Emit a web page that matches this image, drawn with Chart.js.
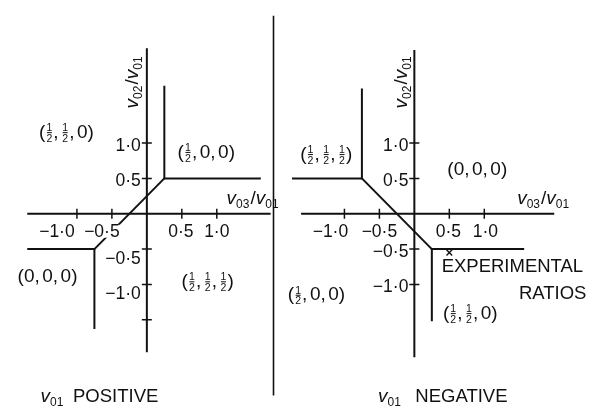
<!DOCTYPE html>
<html>
<head>
<meta charset="utf-8">
<script src="https://cdn.jsdelivr.net/npm/chart.js@4/dist/chart.umd.min.js"></script>
<style>
  html, body { margin: 0; padding: 0; background: #fff; }
  #wrap { width: 593px; height: 412px; }
</style>
</head>
<body>
<div id="wrap"><canvas id="c" width="593" height="412"></canvas></div>
<script>
// ---- tick values and their labels (same on both diagrams) ----
const xTickValues = [-1.0, -0.5, 0.5, 1.0];
const xTickLabels = ['−1·0', '−0·5', '0·5', '1·0'];
const yTickValues = [1.0, 0.5, -0.5, -1.0];
const yTickLabels = ['1·0', '0·5', '−0·5', '−1·0'];
const positiveExtraYTicks = [-1.5];

// ---- axis extents (v03/v01 along x, v02/v01 along y) ----
const positiveXAxis = [-1.71, 1.77];
const positiveYAxis = [-1.96, 2.34];
const negativeXAxis = [-1.62, 2.0];
const negativeYAxis = [-2.03, 2.315];

// ---- phase boundaries, as polylines of (v03/v01, v02/v01) ----
const positiveBoundaries = [
  [[0.25, 1.81], [0.25, 0.5], [1.63, 0.5]],
  [[0.25, 0.5], [-0.75, -0.5]],
  [[-1.71, -0.5], [-0.75, -0.5], [-0.75, -1.63]]
];
const negativeBoundaries = [
  [[-0.75, 1.77], [-0.75, 0.5], [-1.75, 0.5]],
  [[-0.75, 0.5], [0.25, -0.5]],
  [[1.57, -0.5], [0.25, -0.5], [0.25, -1.52]]
];

// ---- measured ratios (v01 negative) ----
const experimentalRatios = [[0.5, -0.55]];

// ---- separator between the two diagrams (left-diagram units) ----
const separatorX = [1.811];
const separatorY = [-2.57, 2.8];

const INK = '#111';
const FONT = '"Liberation Sans", Arial, Helvetica, sans-serif';

// horizontal nudges of the x tick labels, per diagram (px)
const xLabelNudge = { xL: [-20, -10, -1, 0], xR: [-14, 0, -1, 1] };

const toPts = arr => arr.map(p => ({ x: p[0], y: p[1] }));

function lineSet(points, xAxisID, width) {
  return {
    type: 'line', data: toPts(points), xAxisID, yAxisID: 'y',
    borderColor: INK, borderWidth: width || 2, pointRadius: 0,
    fill: false, tension: 0, borderCapStyle: 'butt', borderJoinStyle: 'miter'
  };
}
function tickSet(points, xAxisID, rotation) {
  return {
    type: 'scatter', data: toPts(points), xAxisID, yAxisID: 'y',
    pointStyle: 'line', pointRadius: 5, rotation,
    borderColor: INK, borderWidth: 1.5, showLine: false
  };
}

const datasets = [];
// left diagram: v01 positive
datasets.push(lineSet([[positiveXAxis[0], 0], [positiveXAxis[1], 0]], 'xL', 2));
datasets.push(lineSet([[0, positiveYAxis[0]], [0, positiveYAxis[1]]], 'xL', 2));
positiveBoundaries.forEach(b => datasets.push(lineSet(b, 'xL', 2)));
datasets.push(tickSet(xTickValues.map(v => [v, 0]), 'xL', 90));
datasets.push(tickSet(yTickValues.concat(positiveExtraYTicks).map(v => [0, v]), 'xL', 0));
// right diagram: v01 negative
datasets.push(lineSet([[negativeXAxis[0], 0], [negativeXAxis[1], 0]], 'xR', 2));
datasets.push(lineSet([[0, negativeYAxis[0]], [0, negativeYAxis[1]]], 'xR', 2));
negativeBoundaries.forEach(b => datasets.push(lineSet(b, 'xR', 2)));
datasets.push(tickSet(xTickValues.map(v => [v, 0]), 'xR', 90));
datasets.push(tickSet(yTickValues.map(v => [0, v]), 'xR', 0));
datasets.push({
  type: 'scatter', data: toPts(experimentalRatios), xAxisID: 'xR', yAxisID: 'y',
  pointStyle: 'crossRot', pointRadius: 4, borderColor: INK, borderWidth: 1.4, showLine: false
});
// separator
datasets.push(lineSet([[separatorX[0], separatorY[0]], [separatorX[0], separatorY[1]]], 'xL', 1.6));

// ---- rich text helpers (subscripts and stacked ½ fractions) ----
function partWidth(ctx, p) {
  if (p.frac) return p.w || 8;
  ctx.font = (p.italic ? 'italic ' : '') + p.size + 'px ' + FONT;
  return ctx.measureText(p.t).width + (p.after || 0);
}
function drawRich(ctx, x, y, parts, align) {
  const widths = parts.map(p => partWidth(ctx, p));
  const total = widths.reduce((a, b) => a + b, 0);
  let cx = align === 'center' ? x - total / 2 : align === 'right' ? x - total : x;
  ctx.textBaseline = 'alphabetic';
  ctx.textAlign = 'left';
  ctx.fillStyle = INK;
  parts.forEach((p, i) => {
    if (p.frac) {
      const w = widths[i];
      ctx.font = '10.5px ' + FONT;
      ctx.textAlign = 'center';
      ctx.fillText('1', cx + w / 2, y - 6.8);
      ctx.fillText('2', cx + w / 2, y + 4);
      ctx.fillRect(cx + 1.5, y - 5.6, w - 3, 1);
      ctx.textAlign = 'left';
    } else {
      ctx.font = (p.italic ? 'italic ' : '') + p.size + 'px ' + FONT;
      ctx.fillText(p.t, cx, y + (p.dy || 0));
    }
    cx += widths[i];
  });
}
function phaseParts(str, size) {
  return Array.from(str).map(ch => {
    if (ch === '½') return { frac: true, w: 8 };
    if (ch === ',') return { t: ',', size, after: 2.5 };
    return { t: ch, size };
  });
}
function ratioParts(a, b) {
  return [
    { t: 'v', size: 19, italic: true }, { t: a, size: 12, dy: 4, after: 1 },
    { t: '/', size: 19 },
    { t: 'v', size: 19, italic: true }, { t: b, size: 12, dy: 4 }
  ];
}

// labels anchored in data coordinates
const phaseLabels = [
  { axis: 'xL', x: -1.15, y: 1.16, text: '(½,½,0)' },
  { axis: 'xL', x: 0.85, y: 0.88, text: '(½,0,0)' },
  { axis: 'xL', x: -1.42, y: -0.88, text: '(0,0,0)' },
  { axis: 'xL', x: 0.87, y: -0.95, text: '(½,½,½)' },
  { axis: 'xR', x: -1.26, y: 0.85, text: '(½,½,½)' },
  { axis: 'xR', x: 0.9, y: 0.64, text: '(0,0,0)' },
  { axis: 'xR', x: -1.40, y: -1.14, text: '(½,0,0)' },
  { axis: 'xR', x: 0.8, y: -1.40, text: '(½,½,0)' }
];

const textPlugin = {
  id: 'diagramText',
  afterDatasetsDraw(chart) {
    const ctx = chart.ctx;
    const s = chart.scales;
    const y = s.y;
    ctx.save();

    ['xL', 'xR'].forEach(ax => {
      const xs = s[ax];
      const x0 = xs.getPixelForValue(0);
      const y0 = y.getPixelForValue(0);
      // x tick labels below the axis
      ctx.font = '17.5px ' + FONT;
      xTickValues.forEach((v, i) => {
        const t = xTickLabels[i];
        const w = ctx.measureText(t).width;
        const cx = xs.getPixelForValue(v) + xLabelNudge[ax][i];
        ctx.fillStyle = '#fff';
        ctx.fillRect(cx - w / 2, y0 + 11, w, 13);
        ctx.fillStyle = INK;
        ctx.textAlign = 'center';
        ctx.textBaseline = 'alphabetic';
        ctx.fillText(t, cx, y0 + 23);
      });
      // y tick labels left of the axis
      yTickValues.forEach((v, i) => {
        const shift = v < 0 ? (ax === 'xL' ? 10 : 3) : 3;
        ctx.fillStyle = INK;
        ctx.textAlign = 'right';
        ctx.textBaseline = 'middle';
        ctx.font = '17.5px ' + FONT;
        ctx.fillText(yTickLabels[i], x0 - 6, y.getPixelForValue(v) + shift);
      });
      // axis titles
      drawRich(ctx, xs.getPixelForValue(ax === 'xL' ? 1.14 : 1.47), y.getPixelForValue(0.14),
        ratioParts('03', '01'), 'left');
      ctx.save();
      ctx.translate(xs.getPixelForValue(ax === 'xL' ? -0.12 : -0.1), y.getPixelForValue(1.49));
      ctx.rotate(-Math.PI / 2);
      drawRich(ctx, 0, 0, ratioParts('02', '01'), 'left');
      ctx.restore();
    });

    // phase labels
    phaseLabels.forEach(l => {
      drawRich(ctx, s[l.axis].getPixelForValue(l.x), y.getPixelForValue(l.y) + 6,
        phaseParts(l.text, 19), 'center');
    });

    // experimental ratios note
    ctx.fillStyle = INK;
    ctx.textBaseline = 'middle';
    ctx.textAlign = 'left';
    ctx.font = '18.5px ' + FONT;
    ctx.fillText('EXPERIMENTAL', s.xR.getPixelForValue(0.39), y.getPixelForValue(-0.75));
    ctx.textAlign = 'right';
    ctx.fillText('RATIOS', s.xR.getPixelForValue(2.46), y.getPixelForValue(-1.14));

    // captions under each diagram
    const base = y.getPixelForValue(-2.66);
    drawRich(ctx, s.xL.getPixelForValue(-1.52), base,
      [{ t: 'v', size: 19, italic: true }, { t: '01', size: 12, dy: 4 }], 'left');
    ctx.textAlign = 'left'; ctx.textBaseline = 'alphabetic';
    ctx.font = '18.5px ' + FONT; ctx.fillStyle = INK;
    ctx.fillText('POSITIVE', s.xL.getPixelForValue(-1.056), base);
    drawRich(ctx, s.xR.getPixelForValue(-0.52), base,
      [{ t: 'v', size: 19, italic: true }, { t: '01', size: 12, dy: 4 }], 'left');
    ctx.textAlign = 'left'; ctx.textBaseline = 'alphabetic';
    ctx.font = '18.5px ' + FONT; ctx.fillStyle = INK;
    ctx.fillText('NEGATIVE', s.xR.getPixelForValue(0.014), base);

    ctx.restore();
  }
};

new Chart(document.getElementById('c'), {
  data: { datasets },
  options: {
    responsive: false,
    animation: false,
    devicePixelRatio: 1,
    layout: { padding: 0 },
    plugins: { legend: { display: false }, tooltip: { enabled: false } },
    events: [],
    scales: {
      xL: { type: 'linear', display: false, min: -143.5 / 71.5, max: (593 - 143.5) / 71.5 },
      xR: { type: 'linear', display: false, min: -417 / 71.5, max: (593 - 417) / 71.5 },
      y: { type: 'linear', display: false, min: -198 / 73, max: 214 / 73 }
    }
  },
  plugins: [textPlugin]
});
</script>
</body>
</html>
